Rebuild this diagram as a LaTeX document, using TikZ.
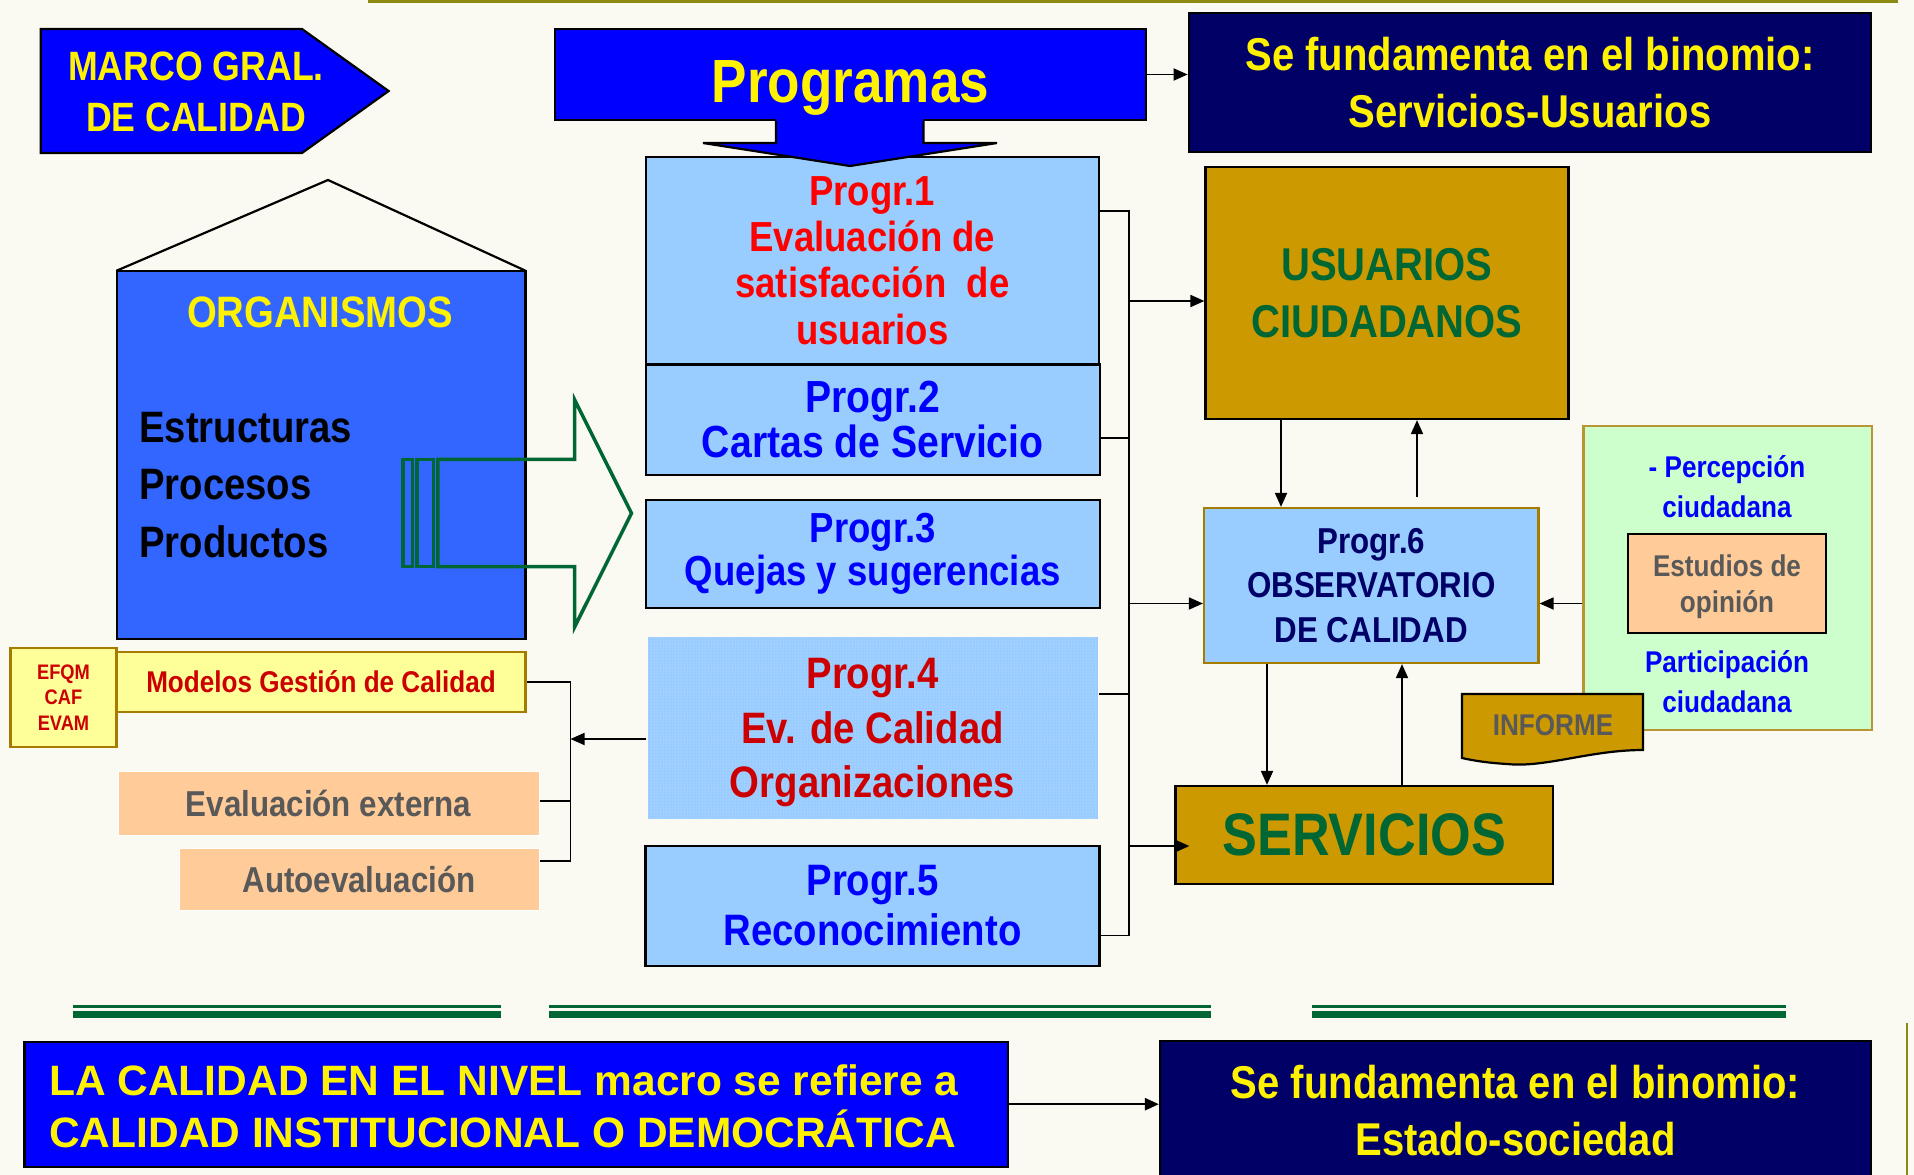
\documentclass[tikz,border=0pt]{standalone}
\usepackage{fontspec}
\setmainfont{Liberation Sans}[FakeStretch=0.87]
\newfontfamily\widefont{Liberation Sans}
\usetikzlibrary{arrows.meta,calc,patterns}

\definecolor{bgcream}{HTML}{FAFAF2}
\definecolor{navy}{HTML}{000066}
\definecolor{lblue}{HTML}{99CCFF}
\definecolor{royal}{HTML}{3366FF}
\definecolor{gold}{HTML}{CC9900}
\definecolor{darkgold}{HTML}{A67C00}
\definecolor{dkgreen}{HTML}{006633}
\definecolor{mint}{HTML}{CCFFCC}
\definecolor{peach}{HTML}{FFCC99}
\definecolor{paleyel}{HTML}{FFFF99}
\definecolor{dkred}{HTML}{CC0000}
\definecolor{txtgray}{HTML}{595959}
\definecolor{topline}{HTML}{8C8A10}

\newcommand{\fsz}[2]{\fontsize{#1}{#2}\selectfont\bfseries}

\tikzset{
    box/.style={draw, line width=2.2pt, inner sep=0pt, align=center},
    link/.style={line width=1.8pt},
    arr/.style={line width=1.8pt, -{Triangle[length=14pt,width=12pt]}},
}

\begin{document}
\begin{tikzpicture}[x=1pt,y=-1pt]
    % page
    \useasboundingbox (0,0) rectangle (1914,1175);
    \fill[bgcream] (0,0) rectangle (1914,1175);
    \draw[topline, line width=3pt] (368,1.5) -- (1898,1.5);
    \draw[topline, line width=2pt] (1907,1023) -- (1907,1175);

    % marco arrow
    \draw[fill=blue, line width=2.2pt] (40.8,29) -- (302,29) -- (388.6,91) -- (302,153) -- (40.8,153) -- cycle;
    \node[text=yellow, align=center, font=\fsz{41}{51.7}] (marco) at (196,92) {MARCO GRAL.\\DE CALIDAD};

    % programas
    \node[box, fill=blue, text=yellow, minimum width=591pt, minimum height=91pt, text height=55pt, text depth=0pt, font=\fsz{61}{70}] (prog) at (850.5,74.5) {Programas};
    \node[box, fill=navy, text=yellow, minimum width=682.5pt, minimum height=139pt, font=\fsz{46}{57}] (sfund1) at (1530,82.5) {Se fundamenta en el binomio:\\Servicios-Usuarios};

    % organismos house
    \draw[line width=2.2pt] (116.6,270.7) -- (328,180) -- (525.4,270.7);
    \node[box, fill=royal, minimum width=408.8pt, minimum height=368.3pt] (org) at (321,455) {};
    \node[text=yellow, font=\fsz{44}{50}] (orgtit) at (320,312) {ORGANISMOS};
    \node[anchor=west, align=left, inner sep=0pt, font=\fsz{44}{57.5}] (orglist) at (139,484.7) {Estructuras\\Procesos\\Productos};

    % striped arrow
    \begin{scope}[dkgreen, line width=3.5pt]
        \draw (403,459.3) rectangle (412.6,566.7);
        \draw (416.8,459.3) rectangle (433.6,566.7);
        \draw (437.8,459.3) -- (574.7,459.3) -- (574.7,400) -- (631.5,513.3) -- (574.7,626.7) -- (574.7,566.7) -- (437.8,566.7) -- cycle;
    \end{scope}

    % programas 1-5
    \node[box, fill=lblue, text=red, minimum width=453.3pt, minimum height=207.8pt, font=\fsz{42}{46.3}] (p1) at (872.3,260.6) {Progr.1\\Evaluación de\\satisfacción\ \ de\\usuarios};
    \node[box, fill=lblue, text=blue, minimum width=454.3pt, minimum height=110.5pt, font=\fsz{45}{45}] (p2) at (872.8,419.75) {Progr.2\\Cartas de Servicio};
    \node[box, fill=lblue, text=blue, minimum width=454.4pt, minimum height=108pt, font=\fsz{42}{43}] (p3) at (872.8,554) {Progr.3\\Quejas y sugerencias};
    \node[box, draw=none, fill=lblue, postaction={pattern=dots, pattern color=white!55!lblue}, text=dkred, minimum width=450pt, minimum height=182pt, text depth=0pt, font=\fsz{44}{54.5}] (p4) at (872.5,728) {Progr.4\\Ev. de Calidad\\Organizaciones};
    \node[box, fill=lblue, text=blue, minimum width=454pt, minimum height=120pt, font=\fsz{44}{50}] (p5) at (872.5,906) {Progr.5\\Reconocimiento};

    % programas pointer
    \fill[blue] (776,118) -- (776,143) -- (703,143) -- (850,166) -- (997,143) -- (923.5,143) -- (923.5,118) -- cycle;
    \draw[line width=2.2pt] (776,121) -- (776,143) -- (703,143) -- (850,166) -- (997,143) -- (923.5,143) -- (923.5,121);

    % right column
    \node[box, fill=gold, text=dkgreen, minimum width=363pt, minimum height=252pt, font=\fsz{46}{57}] (usu) at (1387,293) {USUARIOS\\CIUDADANOS};
    \node[box, draw=darkgold, fill=lblue, text=navy, minimum width=334.5pt, minimum height=155pt, font=\fsz{36}{44.5}] (p6) at (1371.25,585.5) {Progr.6\\OBSERVATORIO\\DE CALIDAD};
    \node[box, fill=gold, text=dkgreen, minimum width=377.5pt, minimum height=98pt, font=\fsz{60}{70}] (serv) at (1364.25,835) {SERVICIOS};

    % percepcion box
    \node[box, draw=darkgold!80, fill=mint, minimum width=288.2pt, minimum height=304pt] (perc) at (1727.6,578) {};
    \node[text=blue, align=center, font=\fsz{30}{40}] (perc1) at (1727,487) {- Percepción\\ciudadana};
    \node[box, fill=peach, text=txtgray, minimum width=198pt, minimum height=99pt, text depth=0pt, font=\fsz{30}{36}] (estud) at (1727,583.5) {Estudios de\\opinión};
    \node[text=blue, align=center, font=\fsz{30}{40}] (perc2) at (1727,682) {Participación\\ciudadana};

    % informe
    \draw[fill=gold, line width=2.2pt] (1462,694) -- (1643,694) -- (1643,750) .. controls (1590,750) and (1545,768) .. (1507,764) .. controls (1490,763) and (1475,761) .. (1462,758) -- cycle;
    \node[text=txtgray, font=\fsz{30}{36}] (informe) at (1553,725) {INFORME};

    % modelos
    \node[box, draw=darkgold, fill=paleyel, text=dkred, minimum width=106pt, minimum height=99pt, font=\fsz{21}{25.3}] (efqm) at (63.5,697.5) {EFQM\\CAF\\EVAM};
    \node[box, draw=darkgold, fill=paleyel, text=dkred, minimum width=408.8pt, minimum height=60pt, font=\fsz{30}{36}] (modelos) at (321,681.7) {Modelos Gestión de Calidad};
    \node[box, draw=white, line width=1pt, fill=peach, text=txtgray, minimum width=421pt, minimum height=63.3pt, font=\fsz{36}{40}] (evext) at (328.5,803.4) {Evaluación externa};
    \node[box, draw=white, line width=1pt, fill=peach, text=txtgray, minimum width=360pt, minimum height=62.7pt, font=\fsz{36}{40}] (autoev) at (359,879.4) {Autoevaluación};

    % levels
    \coordinate (bus) at (1129.3,0);
    \coordinate (brk) at (570.5,0);
    \coordinate (y1) at (0,211);
    \coordinate (y2) at (0,437.6);
    \coordinate (y4) at (0,694);
    \coordinate (y5) at (0,935.5);
    \coordinate (yu) at (0,301);
    \coordinate (y6) at (0,603.5);
    \coordinate (ys) at (0,846);
    \coordinate (ye) at (0,800.7);
    \coordinate (ya) at (0,860.7);
    \coordinate (yp) at (0,739);
    \coordinate (xa) at (1281,0);
    \coordinate (xb) at (1417,0);
    \coordinate (xc) at (1267,0);
    \coordinate (xd) at (1402,0);

    % bus
    \draw[link] (p1.east |- y1) -| (bus |- y5) -- (p5.east |- y5);
    \draw[link] (p2.east |- y2) -- (bus |- y2);
    \draw[link] (p4.east |- y4) -- (bus |- y4);
    \draw[arr] (bus |- yu) -- (usu.west |- yu);
    \draw[arr] (bus |- y6) -- (p6.west |- y6);
    \draw[arr, shorten >=-15pt] (bus |- ys) -- (serv.west |- ys);

    % loops around observatorio
    \draw[arr] (xa |- usu.south) -- (xa |- p6.north);
    \draw[arr, shorten <=10pt] (xb |- p6.north) -- (xb |- usu.south);
    \draw[arr] (xc |- p6.south) -- (xc |- serv.north);
    \draw[arr] (xd |- serv.north) -- (xd |- p6.south);
    \draw[arr] (perc.west |- y6) -- (p6.east |- y6);
    \draw[arr] (prog.east) -- (prog.east -| sfund1.west);

    % bracket
    \draw[link] (modelos.east) -| (brk |- ya) -- (autoev.east |- ya);
    \draw[link] (evext.east |- ye) -- (brk |- ye);
    \draw[arr] (p4.west |- yp) -- (brk |- yp);

    % separator
    \foreach \xa/\xb in {73/500.5, 549/1211, 1312/1786}{
        \draw[dkgreen, line width=2.4pt] (\xa,1006.5) -- (\xb,1006.5);
        \draw[dkgreen, line width=6.7pt] (\xa,1014.3) -- (\xb,1014.3);
    }

    % bottom
    \node[box, fill=blue, minimum width=983.6pt, minimum height=125pt] (macro) at (516.2,1104.2) {};
    \node[anchor=west, align=left, inner sep=0pt, text=yellow, font=\widefont\fsz{42.5}{51.7}] (macrotxt) at (49,1106) {LA CALIDAD EN EL NIVEL macro se refiere a\\CALIDAD INSTITUCIONAL O DEMOCRÁTICA};
    \node[box, fill=navy, text=yellow, minimum width=711pt, minimum height=139pt, font=\fsz{46}{57}] (sfund2) at (1515.5,1110.5) {Se fundamenta en el binomio:\\Estado-sociedad};
    \draw[arr, line width=2.4pt] (macro.east) -- (macro.east -| sfund2.west);
\end{tikzpicture}
\end{document}
